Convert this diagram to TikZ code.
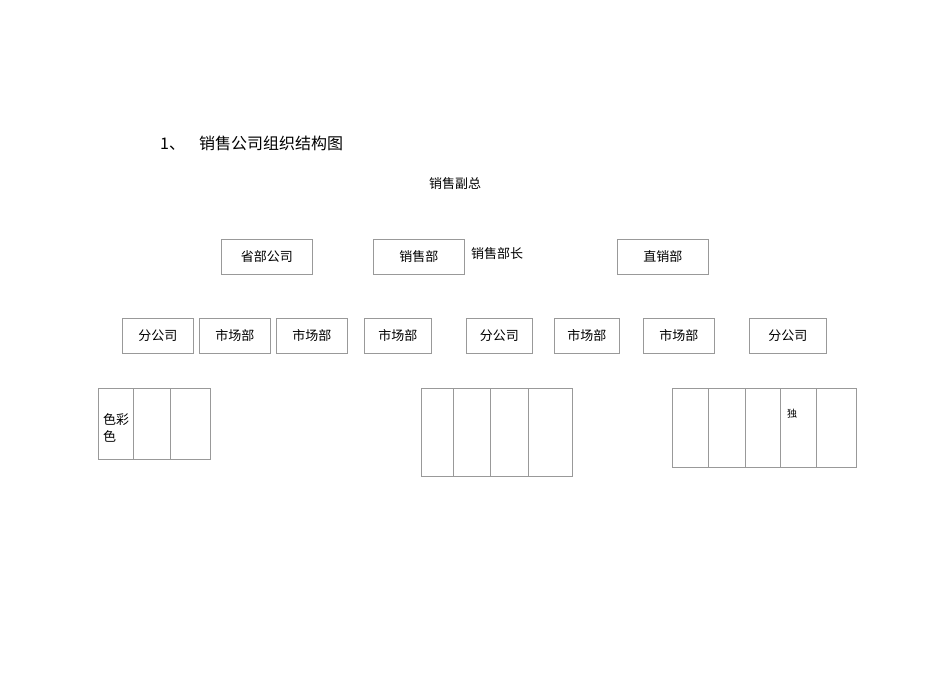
\documentclass[tikz,border=0pt]{standalone}
\usepackage{fontspec}
\newfontfamily\cjk{Noto Sans CJK SC}
\begin{document}
\begin{tikzpicture}[x=1pt,y=-1pt,
  box/.style={draw=black!40,line width=0.7pt,anchor=north west,inner sep=0pt,font=\cjk\fontsize{13}{15}\selectfont},
  lbl/.style={font=\cjk\fontsize{13}{15}\selectfont,inner sep=0pt},
  cell/.style={draw=black!40,line width=0.7pt}]
\useasboundingbox (0,0) rectangle (950,672);
\node[lbl,anchor=west,font=\cjk\fontsize{16}{18}\selectfont] (title) at (160,143) {1、\hspace{14pt}销售公司组织结构图};
\node[lbl] (vp) at (455,184) {销售副总};
\node[box,minimum width=91pt,minimum height=35pt] (a1) at (221,239) {省部公司};
\node[box,minimum width=91pt,minimum height=35pt] (a2) at (373,239) {销售部};
\node[lbl,anchor=west] (head) at (471,254) {销售部长};
\node[box,minimum width=91pt,minimum height=35pt] (a3) at (617,239) {直销部};
\foreach \n/\x/\w/\t in {b1/122/71/分公司,b2/199/71/市场部,b3/276/71/市场部,b4/364/67/市场部,b5/466/66/分公司,b6/554/65/市场部,b7/643/71/市场部,b8/749/77/分公司}
  \node[box,minimum width=\w pt,minimum height=35pt] (\n) at (\x,318) {\t};
\draw[cell] (98,388) rectangle (210,459) (133,388)--(133,459) (170,388)--(170,459);
\node[lbl,anchor=north west,align=left,font=\cjk\fontsize{13}{17}\selectfont] (c1) at (103,413) {色彩\\色};
\draw[cell] (421,388) rectangle (572,476) (453,388)--(453,476) (490,388)--(490,476) (528,388)--(528,476);
\draw[cell] (672,388) rectangle (856,467) (708,388)--(708,467) (745,388)--(745,467) (780,388)--(780,467) (816,388)--(816,467);
\node[lbl,font=\cjk\fontsize{10}{12}\selectfont] (c2) at (792,414) {独};
\end{tikzpicture}
\end{document}
